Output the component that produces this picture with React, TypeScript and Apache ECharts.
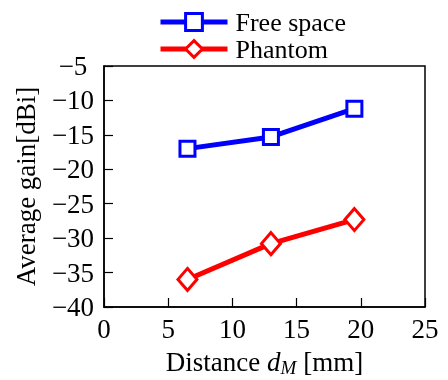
import React, { useEffect, useRef } from "react";
import * as echarts from "echarts";

const distances = [6.5, 13, 19.5];
const freeSpace = [-17, -15.3, -11.2];
const phantom = [-36, -30.8, -27.3];
const seriesNames = ["Free space", "Phantom"];

const FONT = "'Liberation Serif', 'Times New Roman', serif";
const minus = (v: number) => String(v).replace("-", "\u2212");

export default function App() {
  const ref = useRef<HTMLDivElement>(null);
  useEffect(() => {
    const chart = echarts.init(ref.current!, null, { renderer: "svg" });
    chart.setOption({
      animation: false,
      textStyle: { fontFamily: FONT },
      legend: {
        orient: "vertical",
        left: 153,
        top: 4,
        padding: 5,
        itemWidth: 67,
        itemHeight: 21,
        itemGap: 1,
        lineStyle: { width: 5 },
        itemStyle: { borderWidth: 3 },
        textStyle: { fontFamily: FONT, fontSize: 26, lineHeight: 25, color: "#000", padding: [0, 0, 0, 3] },
        data: seriesNames,
      },
      grid: {
        left: 104,
        right: 23,
        top: 66,
        bottom: 73,
        show: true,
        borderColor: "#000",
        borderWidth: 1.5,
        containLabel: false,
        outerBoundsMode: "none",
      },
      xAxis: {
        type: "value",
        min: 0,
        max: 25,
        interval: 5,
        name: "Distance {i|d}{s|M} [mm]",
        nameLocation: "middle",
        nameGap: 37,
        nameTextStyle: {
          fontFamily: FONT,
          fontSize: 27,
          color: "#000",
          lineHeight: 30,
          rich: {
            i: { fontFamily: FONT, fontSize: 27, fontStyle: "italic", color: "#000", lineHeight: 30 },
            s: { fontFamily: FONT, fontSize: 19, fontStyle: "italic", color: "#000", lineHeight: 12, verticalAlign: "bottom" },
          },
        },
        axisLine: { show: true, lineStyle: { color: "#000", width: 1.5 } },
        axisTick: { show: true, inside: true, length: 9, lineStyle: { color: "#000", width: 1.2 } },
        axisLabel: { fontFamily: FONT, fontSize: 27, color: "#000", margin: 8, formatter: minus },
        splitLine: { show: false },
      },
      yAxis: {
        type: "value",
        min: -40,
        max: -5,
        interval: 5,
        name: "Average gain[dBi]",
        nameLocation: "middle",
        nameGap: 65,
        nameRotate: 90,
        nameTextStyle: { fontFamily: FONT, fontSize: 27, color: "#000" },
        axisLine: { show: true, lineStyle: { color: "#000", width: 1.5 } },
        axisTick: { show: true, inside: true, length: 9, lineStyle: { color: "#000", width: 1.2 } },
        axisLabel: { fontFamily: FONT, fontSize: 27, color: "#000", margin: 31, align: "center", formatter: minus },
        splitLine: { show: false },
      },
      series: [
        {
          name: seriesNames[0],
          type: "line",
          data: distances.map((d, i) => [d, freeSpace[i]]),
          symbol: "rect",
          symbolSize: 15,
          lineStyle: { color: "#0000ff", width: 5 },
          itemStyle: { color: "#ffffff", borderColor: "#0000ff", borderWidth: 3 },
        },
        {
          name: seriesNames[1],
          type: "line",
          data: distances.map((d, i) => [d, phantom[i]]),
          symbol: "diamond",
          symbolSize: [19, 22],
          lineStyle: { color: "#ff0000", width: 5 },
          itemStyle: { color: "#ffffff", borderColor: "#ff0000", borderWidth: 3 },
        },
      ],
    });
    return () => chart.dispose();
  }, []);
  return <div ref={ref} style={{ position: "fixed", left: 0, top: 0, width: 448, height: 380 }} />;
}
